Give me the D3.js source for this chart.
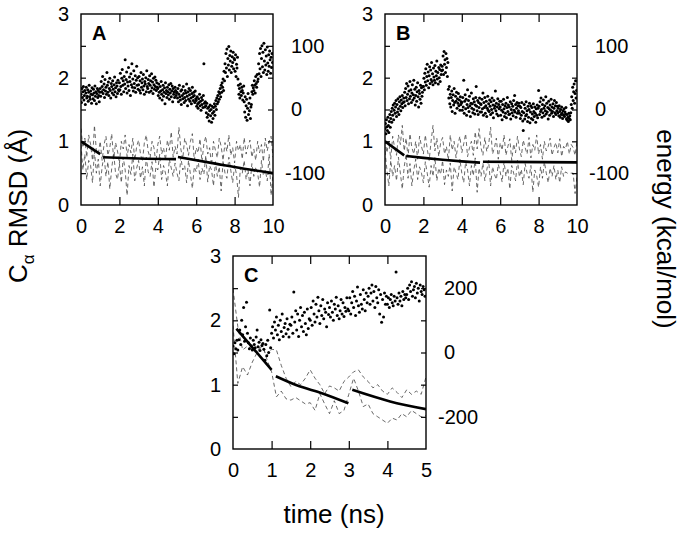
<!DOCTYPE html>
<html><head><meta charset="utf-8">
<script src="https://cdn.jsdelivr.net/npm/d3@7"></script>
<style>
body{margin:0;background:#fff}
svg{display:block}
text{font-family:"Liberation Sans",Arial,Helvetica,sans-serif;fill:#000}
</style>
</head><body>
<svg id="chart" width="685" height="537"></svg>
<script>
// ---------------- DATA ----------------
const panelLabels = ["A", "B", "C"];
const timeTicksAB = [0, 2, 4, 6, 8, 10];
const timeTicksC = [0, 1, 2, 3, 4, 5];
const rmsdTicks = [0, 1, 2, 3];
const energyTicksAB = [-100, 0, 100];
const energyTicksC = [-200, 0, 200];
const xTitle = "time (ns)";
const yTitleLeft = ["C", "α", " RMSD (Å)"];
const yTitleRight = "energy (kcal/mol)";

// energy (dots), kcal/mol, sampled every 1/40 ns
const energyA = [
24,11,33,19,28,36,15,22,30,8,26,35,18,21,31,13,27,38,20,16,29,24,10,34,23,17,32,26,14,37,21,28,9,25,33,19,30,22,12,27,
33,21,44,28,36,52,25,31,40,19,47,29,35,24,58,38,27,43,22,33,49,30,18,41,36,26,45,32,23,39,51,28,34,20,42,37,25,46,31,29,
42,31,57,36,24,49,63,38,45,28,52,40,78,33,47,59,26,43,37,66,30,51,44,22,56,39,72,35,48,29,61,41,34,53,27,46,68,38,50,32,
39,52,30,45,26,58,35,42,48,31,55,37,24,44,40,50,28,61,36,33,47,41,27,53,38,45,29,56,34,43,25,49,39,32,51,36,46,30,42,35,
33,22,40,27,18,36,29,44,24,15,31,38,21,27,34,9,42,25,30,19,35,28,23,39,16,32,26,41,20,29,37,12,33,24,28,19,35,30,22,26,
27,18,33,12,24,38,20,15,29,8,31,22,17,36,25,11,19,30,14,26,40,21,6,28,16,33,23,13,30,18,9,25,35,20,14,27,22,11,29,17,
14,5,20,9,2,17,11,24,6,13,-1,19,8,15,3,22,72,10,4,12,6,-5,10,-12,2,-8,4,-18,-2,7,-10,0,-20,5,-6,-14,3,-3,9,-9,
5,14,0,18,9,22,12,28,16,25,33,20,38,27,42,35,48,30,60,45,72,58,88,65,95,52,80,70,99,62,85,76,92,58,68,83,74,90,64,80,
78,60,86,52,71,65,82,48,38,24,33,18,40,28,22,35,30,15,26,37,12,-4,20,-12,6,16,-17,2,25,-8,10,-2,18,-14,4,8,28,38,24,34,
30,45,38,26,52,41,35,55,44,48,72,56,88,64,96,52,80,100,67,90,58,104,76,62,94,70,84,55,98,73,60,86,68,92,78,57,82,66,88,74
];
const energyB = [
-30,-22,-38,-16,-27,-33,-12,-25,-36,-19,-8,-28,-14,-3,-20,2,-9,7,-16,-1,10,-6,4,14,-11,8,-4,17,1,-8,12,20,5,-2,15,9,22,3,11,18,
12,27,6,33,19,41,14,24,37,9,29,17,44,21,31,11,26,39,15,23,46,18,32,7,22,35,13,28,42,20,4,30,25,16,38,10,34,21,27,36,
36,49,31,57,43,64,38,52,71,45,59,34,53,67,41,62,47,74,44,56,39,65,51,46,69,42,60,53,76,48,58,40,66,50,63,44,70,55,61,68,
62,84,55,91,71,78,58,88,66,80,52,74,32,18,36,9,24,4,19,29,-3,14,23,7,33,11,-6,21,13,27,2,17,10,25,6,15,-1,20,8,12,
11,-1,19,4,46,-6,13,23,1,16,-9,8,31,3,14,-3,21,6,-11,10,26,2,9,-5,17,0,12,-7,7,19,36,5,-2,14,-8,11,3,18,-4,9,
8,-4,16,1,26,-9,11,3,19,-6,6,13,-11,2,21,-1,9,-3,15,5,-8,12,0,18,-5,7,-13,14,2,6,29,-2,10,-7,4,17,-10,8,1,13,
4,-9,13,-1,-16,8,-4,16,1,-11,6,-6,10,-13,3,19,-3,7,-8,4,-7,12,-15,0,9,-5,5,-10,14,-1,22,-4,8,-12,2,11,-6,6,-2,10,
-6,5,-14,3,-9,11,-3,-18,-33,-5,8,-15,2,-10,12,-8,-2,-19,5,-12,0,10,-21,-4,6,-14,3,-7,-16,9,-3,-11,4,-6,-20,1,-9,7,-13,2,
30,5,-8,12,-3,18,0,-12,8,-5,15,2,-10,6,-2,20,-7,10,-4,3,-15,13,1,-9,7,-1,16,-6,4,-3,9,-11,2,14,-5,6,-8,11,-2,5,
-5,2,-10,6,-3,-12,0,-8,4,-6,-14,-2,-9,1,-11,-4,-7,3,-15,-8,-17,-12,-19,-6,-14,-10,-16,-5,8,20,2,35,14,28,40,10,25,45,18,30
];
const energyC = [
20,-4,30,12,38,8,40,70,25,100,55,140,35,80,156,60,
30,12,45,20,8,38,25,15,48,70,18,32,6,40,22,28,10,-24,25,-10,38,0,132,15,
60,80,45,95,70,110,55,85,40,100,65,120,50,78,90,58,105,72,48,88,
85,110,60,188,95,130,70,120,50,100,140,80,115,65,125,90,55,135,75,105,
100,140,85,160,120,95,150,110,172,130,90,145,115,165,105,135,125,80,155,118,
140,110,160,125,100,150,135,172,115,145,105,130,165,120,155,112,140,128,170,135,
130,170,120,155,190,140,175,115,160,204,145,125,180,150,135,195,165,130,185,155,
175,200,150,185,210,160,190,140,205,170,155,195,120,180,94,165,110,185,150,175,
150,170,140,165,180,155,145,175,160,250,170,150,185,160,175,145,190,165,180,170,
180,200,165,210,190,220,175,195,205,170,215,185,200,160,210,190,180,205,195,175
];

// RMSD (dashed), Å, two series per panel, every 0.1 ns (A, B) and 0.125 ns (C)
const rmsdA1 = [1.2,0.9,1.05,0.75,1.1,0.95,0.7,1.25,0.85,0.8,1.0,0.7,0.95,1.08,0.78,0.9,1.12,0.72,0.98,0.85,
0.65,1.0,0.88,1.1,0.76,0.95,0.82,1.05,0.7,0.92,1.02,0.8,0.68,0.98,1.1,0.84,0.74,1.0,0.9,0.66,
0.95,1.08,0.8,0.9,0.7,1.02,0.86,1.15,0.75,0.92,0.8,1.22,0.88,0.72,1.05,0.95,0.78,1.0,1.12,0.7,
0.9,0.82,1.04,0.68,0.96,1.08,0.8,0.9,0.62,1.0,0.86,0.74,1.05,0.92,0.7,0.98,0.84,1.1,0.78,0.9,
0.66,1.0,0.85,0.95,0.72,1.06,0.8,0.92,1.02,0.75,0.88,0.7,1.0,0.82,0.95,0.68,1.05,0.85,1.0,1.08,0.75];
const rmsdA2 = [0.95,0.55,0.8,0.4,0.7,0.62,0.35,0.85,0.5,0.72,0.3,0.6,0.78,0.45,0.68,0.25,0.58,0.82,0.5,0.4,
0.65,0.35,0.75,0.55,0.15,0.62,0.48,0.8,0.38,0.58,0.7,0.42,0.6,0.3,0.75,0.52,0.45,0.68,0.28,0.6,
0.55,0.8,0.4,0.62,0.5,0.3,0.72,0.58,0.45,0.66,0.5,0.38,0.75,0.55,0.62,0.35,0.7,0.48,0.26,0.6,
0.52,0.72,0.4,0.58,0.48,0.78,0.36,0.62,0.55,0.3,0.68,0.45,0.6,0.22,0.7,0.5,0.42,0.75,0.55,0.35,
0.62,0.48,0.12,0.58,0.5,0.7,0.4,0.55,0.3,0.65,0.45,0.6,0.5,0.28,0.7,0.46,0.55,0.38,0.8,0.15,0.5];
const rmsdB1 = [1.02,0.82,1.0,0.72,1.08,0.9,0.78,1.1,0.95,1.25,0.85,1.05,0.75,1.12,0.9,0.8,1.0,0.72,1.08,0.92,
0.8,1.1,0.88,0.7,1.0,1.25,0.85,1.05,0.76,0.98,1.06,0.8,0.92,0.7,1.1,0.86,1.0,0.74,0.95,1.08,
0.82,0.96,1.12,0.76,0.9,1.0,0.78,1.15,0.88,1.2,0.9,0.78,1.06,0.84,0.95,1.22,0.8,0.9,1.05,0.72,
0.98,0.86,1.1,0.78,0.92,1.04,0.7,0.96,0.82,1.08,0.88,0.76,1.02,0.9,0.8,1.06,0.74,0.95,0.86,1.1,
0.8,0.95,0.72,1.0,0.85,0.92,1.05,0.78,0.9,0.98,0.82,1.04,0.76,0.92,0.88,1.0,0.8,0.95,0.9,0.78,1.0];
const rmsdB2 = [0.85,0.55,0.3,0.7,0.45,0.62,0.38,0.75,0.5,0.25,0.6,0.8,0.42,0.65,0.3,0.55,0.72,0.4,0.6,0.5,
0.35,0.68,0.5,0.28,0.62,0.45,0.75,0.38,0.58,0.48,0.7,0.32,0.55,0.45,0.66,0.22,0.6,0.5,0.4,0.72,
0.5,0.35,0.68,0.55,0.3,0.62,0.46,0.74,0.2,0.58,0.45,0.66,0.38,0.55,0.7,0.3,0.6,0.48,0.4,0.64,
0.52,0.36,0.68,0.45,0.58,0.25,0.62,0.5,0.38,0.7,0.44,0.56,0.32,0.65,0.5,0.42,0.62,0.2,0.55,0.46,
0.28,0.6,0.42,0.68,0.5,0.35,0.58,0.45,0.62,0.4,0.55,0.35,0.6,0.45,0.52,0.5,0.5,0.5,0.5,0.18,0.45];
const rmsdC1 = [2.49,1.9,1.54,1.6,1.55,1.5,1.6,1.45,1.55,1.54,1.3,1.1,0.97,1.05,1.0,1.1,1.23,1.1,1.0,0.86,
0.98,0.95,0.9,1.05,1.12,1.2,1.23,1.12,1.05,0.95,1.0,0.9,0.85,0.95,0.88,0.8,0.92,0.85,0.9,0.85,1.12];
const rmsdC2 = [1.92,1.02,1.28,1.15,1.35,1.5,1.64,1.4,1.2,0.81,0.9,0.78,0.76,0.8,0.75,0.7,0.72,0.6,0.86,0.7,
0.55,0.75,0.55,0.6,0.85,1.1,0.9,0.66,0.7,0.55,0.5,0.45,0.4,0.48,0.45,0.55,0.5,0.6,0.55,0.5,0.52];

// fitted segments (thick lines): [time, RMSD]
const fitA = [[[0,1.0],[1.0,0.8]], [[1.15,0.75],[3,0.73],[4.95,0.72]], [[5.05,0.755],[7,0.65],[8.5,0.57],[10,0.5]]];
const fitB = [[[0,1.0],[1.0,0.78]], [[1.1,0.77],[2,0.74],[3,0.71],[4,0.685],[4.95,0.665]], [[5.1,0.68],[10,0.67]]];
const fitC = [[[0.09,1.87],[0.5,1.58],[1.0,1.23]], [[1.11,1.13],[1.65,0.99],[2.34,0.86],[2.99,0.71]], [[3.09,0.92],[4.07,0.74],[5,0.62]]];

// ---------------- LAYOUT ----------------
const panels = [
  {label: panelLabels[0], box: [81, 14, 273, 205], tDomain: [0, 10], eDomain: [-150, 150], tTicks: timeTicksAB, eTicks: energyTicksAB,
   dots: energyA, dotStep: 10 / 400, dashes: [rmsdA1, rmsdA2], dashStep: 0.1, fits: fitA},
  {label: panelLabels[1], box: [385, 14, 577, 205], tDomain: [0, 10], eDomain: [-150, 150], tTicks: timeTicksAB, eTicks: energyTicksAB,
   dots: energyB, dotStep: 10 / 400, dashes: [rmsdB1, rmsdB2], dashStep: 0.1, fits: fitB},
  {label: panelLabels[2], box: [233, 256, 426, 449], tDomain: [0, 5], eDomain: [-300, 300], tTicks: timeTicksC, eTicks: energyTicksC,
   dots: energyC, dotStep: 5 / 200, dashes: [rmsdC1, rmsdC2], dashStep: 0.125, fits: fitC}
];

const svg = d3.select("#chart");
const TICK_FS = 20;
const fmt = d => String(d);

panels.forEach((p, pi) => {
  const [x0, y0, x1, y1] = p.box;
  const x = d3.scaleLinear().domain(p.tDomain).range([x0, x1]);
  const y = d3.scaleLinear().domain([0, 3]).range([y1, y0]);
  const ye = d3.scaleLinear().domain(p.eDomain).range([y1, y0]);
  const g = svg.append("g");

  const clipId = "clip" + pi;
  svg.append("clipPath").attr("id", clipId).append("rect")
    .attr("x", x0).attr("y", y0).attr("width", x1 - x0).attr("height", y1 - y0);
  const data = g.append("g").attr("clip-path", `url(#${clipId})`);

  const dashLine = d3.line().x((d, i) => x(i * p.dashStep)).y(d => y(d));
  p.dashes.forEach(s => {
    data.append("path").attr("d", dashLine(s)).attr("fill", "none")
      .attr("stroke", "#444").attr("stroke-width", 0.8).attr("stroke-dasharray", "4,3");
  });

  const fitLine = d3.line().x(d => x(d[0])).y(d => y(d[1])).curve(d3.curveMonotoneX);
  p.fits.forEach(seg => {
    data.append("path").attr("d", fitLine(seg)).attr("fill", "none")
      .attr("stroke", "#000").attr("stroke-width", 2.6);
  });

  data.selectAll("circle.dot").data(p.dots).join("circle").attr("class", "dot")
    .attr("cx", (d, i) => x(i * p.dotStep)).attr("cy", d => ye(d)).attr("r", 1.5).attr("fill", "#000");

  const inner = v => v > p.tDomain[0] && v < p.tDomain[1];

  const bx = g.append("g").attr("transform", `translate(0,${y1})`)
    .call(d3.axisBottom(x).tickValues(p.tTicks).tickFormat(fmt).tickSizeInner(-8).tickSizeOuter(0).tickPadding(14));
  const tx = g.append("g").attr("transform", `translate(0,${y0})`)
    .call(d3.axisTop(x).tickValues(p.tTicks.filter(inner)).tickSizeInner(-8).tickSizeOuter(0).tickFormat(""));
  const lx = g.append("g").attr("transform", `translate(${x0},0)`)
    .call(d3.axisLeft(y).tickValues(rmsdTicks).tickFormat(fmt).tickSizeInner(-5).tickSizeOuter(0).tickPadding(12));
  const lx2 = g.append("g").attr("transform", `translate(${x0},0)`)
    .call(d3.axisLeft(ye).tickValues(p.eTicks).tickSizeInner(-5).tickSizeOuter(0).tickFormat(""));
  const rx = g.append("g").attr("transform", `translate(${x1},0)`)
    .call(d3.axisRight(ye).tickValues(p.eTicks).tickFormat(fmt).tickSizeInner(-5).tickSizeOuter(0).tickPadding(18));
  rx.selectAll("text").attr("dx", d => d < 0 ? -6 : 0).attr("text-anchor", "start");
  const rx2 = g.append("g").attr("transform", `translate(${x1},0)`)
    .call(d3.axisRight(y).tickValues([1, 2]).tickSizeInner(-5).tickSizeOuter(0).tickFormat(""));

  [bx, tx, lx, lx2, rx, rx2].forEach(a => {
    a.select(".domain").remove();
    a.selectAll("line").attr("stroke", "#000").attr("stroke-width", 1.2);
    a.selectAll("text").attr("font-size", TICK_FS).attr("font-family", '"Liberation Sans",Arial,sans-serif').attr("fill", "#000");
  });
  [bx, tx].forEach(a => a.selectAll(".tick").filter(d => !inner(d)).select("line").remove());
  lx.selectAll(".tick").filter(d => d === 0 || d === 3).select("line").remove();

  g.append("rect").attr("x", x0).attr("y", y0).attr("width", x1 - x0).attr("height", y1 - y0)
    .attr("fill", "none").attr("stroke", "#000").attr("stroke-width", 1.4);

  g.append("text").attr("x", x0 + 11).attr("y", y0 + 26).attr("font-size", 20).attr("font-weight", "bold").text(p.label);
});

// axis titles
svg.append("text").attr("x", 334).attr("y", 523).attr("text-anchor", "middle").attr("font-size", 26).text(xTitle);

const lt = svg.append("text").attr("transform", "translate(27,283) rotate(-90)").attr("text-anchor", "start").attr("font-size", 26);
lt.append("tspan").text(yTitleLeft[0]);
lt.append("tspan").attr("font-size", 17).attr("dy", 7).text(yTitleLeft[1]);
lt.append("tspan").attr("dy", -7).text(yTitleLeft[2]);

svg.append("text").attr("transform", "translate(657,229) rotate(90)").attr("text-anchor", "middle").attr("font-size", 26).text(yTitleRight);
</script>
</body></html>
